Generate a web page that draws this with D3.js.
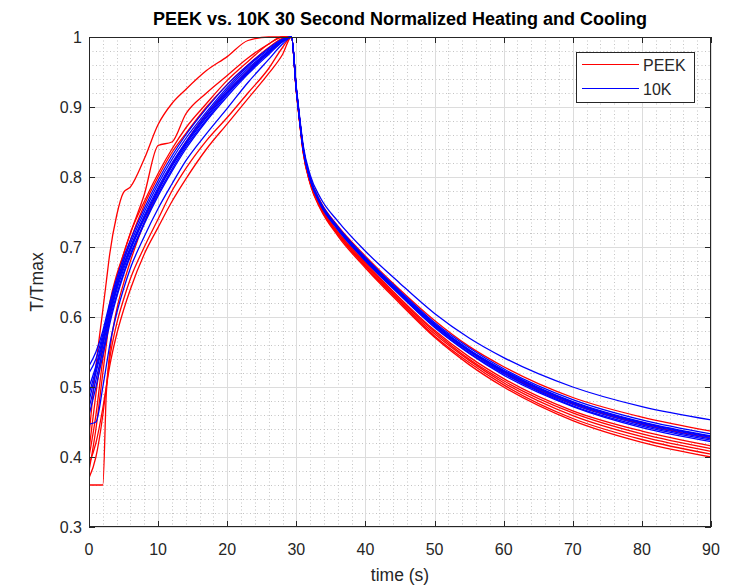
<!DOCTYPE html>
<html><head><meta charset="utf-8">
<script src="https://cdn.jsdelivr.net/npm/d3@7"></script>
<style>html,body{margin:0;padding:0;background:#fff;}svg{display:block;font-family:"Liberation Sans",Arial,Helvetica,sans-serif;}</style>
</head><body><svg id="c" width="733" height="587"></svg>
<script>
const times = [0, 1, 2, 2.5, 3, 4, 5, 6, 8, 10, 12, 14, 17, 20, 23, 26, 28, 29.3, 30, 30.5, 31, 32, 33.5, 36, 40, 45, 50, 55, 60, 70, 80, 90];

const peekSeries = [
  [0.43,0.53,0.61,0.65,0.69,0.745,0.778,0.786,0.826,0.875,0.905,0.925,0.952,0.972,0.995,1.0,1.0,1.0,
   0.923,0.878,0.837,0.793,0.757,0.721,0.676,0.625,0.579,0.540,0.509,0.463,0.433,0.412],
  [0.40,0.46,0.54,0.575,0.61,0.655,0.69,0.72,0.775,0.845,0.85,0.89,0.92,0.945,0.97,0.99,1.0,1.0,
   0.926,0.881,0.842,0.799,0.765,0.730,0.687,0.639,0.595,0.558,0.529,0.485,0.457,0.437],
  [0.38,0.44,0.52,0.56,0.6,0.645,0.68,0.71,0.76,0.8,0.835,0.862,0.9,0.932,0.96,0.985,0.998,1.0,
   0.923,0.876,0.835,0.791,0.755,0.718,0.672,0.621,0.573,0.535,0.503,0.455,0.425,0.404],
  [0.36,0.36,0.36,0.49,0.55,0.61,0.648,0.68,0.735,0.78,0.818,0.85,0.89,0.922,0.952,0.98,0.995,1.0,
   0.925,0.88,0.84,0.797,0.762,0.727,0.683,0.633,0.588,0.551,0.521,0.476,0.447,0.427],
  [0.37,0.40,0.46,0.5,0.54,0.59,0.625,0.655,0.7,0.74,0.78,0.812,0.852,0.885,0.92,0.955,0.985,1.0,
   0.922,0.876,0.834,0.79,0.754,0.716,0.670,0.619,0.571,0.532,0.500,0.452,0.421,0.400],
  [0.39,0.42,0.47,0.5,0.53,0.575,0.61,0.64,0.69,0.728,0.765,0.797,0.84,0.876,0.912,0.948,0.975,1.0,
   0.924,0.878,0.838,0.794,0.758,0.722,0.678,0.627,0.581,0.543,0.512,0.466,0.437,0.416],
  [0.41,0.49,0.56,0.59,0.62,0.66,0.69,0.72,0.765,0.805,0.84,0.87,0.905,0.938,0.965,0.99,1.0,1.0,
   0.923,0.877,0.836,0.792,0.756,0.719,0.674,0.623,0.576,0.538,0.506,0.459,0.429,0.408]
];

const tenKSeries = [
  [0.447,0.45,0.5,0.53,0.56,0.605,0.64,0.67,0.715,0.755,0.79,0.823,0.862,0.898,0.935,0.968,0.99,1.0,
   0.928,0.884,0.845,0.803,0.770,0.737,0.694,0.648,0.605,0.570,0.542,0.500,0.472,0.453],
  [0.5,0.53,0.57,0.59,0.61,0.645,0.675,0.7,0.745,0.785,0.82,0.85,0.89,0.925,0.955,0.98,0.995,1.0,
   0.926,0.881,0.841,0.798,0.764,0.729,0.685,0.637,0.592,0.556,0.526,0.482,0.453,0.433],
  [0.52,0.54,0.575,0.595,0.615,0.65,0.68,0.705,0.75,0.79,0.825,0.855,0.893,0.928,0.958,0.982,0.996,1.0,
   0.925,0.88,0.84,0.798,0.763,0.728,0.684,0.635,0.590,0.553,0.524,0.479,0.450,0.430],
  [0.48,0.52,0.56,0.58,0.6,0.638,0.668,0.695,0.74,0.78,0.815,0.846,0.885,0.92,0.95,0.978,0.994,1.0,
   0.925,0.88,0.84,0.797,0.762,0.727,0.683,0.634,0.589,0.552,0.522,0.477,0.448,0.428],
  [0.46,0.5,0.545,0.567,0.59,0.628,0.66,0.687,0.733,0.773,0.808,0.84,0.88,0.915,0.947,0.975,0.993,1.0,
   0.925,0.88,0.84,0.796,0.761,0.726,0.682,0.633,0.588,0.551,0.520,0.475,0.446,0.426],
  [0.53,0.55,0.58,0.6,0.62,0.655,0.685,0.71,0.755,0.795,0.83,0.86,0.898,0.932,0.96,0.984,0.997,1.0,
   0.925,0.879,0.839,0.796,0.761,0.725,0.681,0.632,0.586,0.549,0.519,0.473,0.444,0.424],
  [0.49,0.525,0.565,0.585,0.605,0.642,0.672,0.698,0.742,0.782,0.817,0.848,0.887,0.922,0.952,0.979,0.995,1.0,
   0.925,0.88,0.84,0.797,0.762,0.727,0.683,0.635,0.590,0.553,0.523,0.478,0.449,0.429],
  [0.47,0.51,0.552,0.573,0.595,0.632,0.663,0.69,0.735,0.776,0.811,0.843,0.882,0.918,0.949,0.977,0.994,1.0,
   0.924,0.879,0.839,0.796,0.760,0.725,0.680,0.631,0.585,0.548,0.517,0.472,0.442,0.422]
];

const xTicks = [0,10,20,30,40,50,60,70,80,90];
const yTicks = [0.3,0.4,0.5,0.6,0.7,0.8,0.9,1];
const legendLabels = ["PEEK","10K"];
const seriesColors = ["#ff0000","#0000ff"];
const titleText = "PEEK vs. 10K 30 Second Normalized Heating and Cooling";
const xLabel = "time (s)";
const yLabel = "T/Tmax";

const L = 89, R = 711, T = 37, B = 527;
const svg = d3.select("#c");
const x = d3.scaleLinear().domain([0,90]).range([L,R]);
const y = d3.scaleLinear().domain([0.3,1]).range([B,T]);
const axisCol = "#262626";

// minor grid
const xMinor = d3.range(0,90.001,2).filter(v => v % 10 !== 0);
const yMinor = d3.range(30,100.001,2).map(v=>v/100).filter(v => Math.round(v*100) % 10 !== 0);
const g = svg.append("g");
g.selectAll(".xm").data(xMinor).enter().append("line")
  .attr("x1",d=>Math.round(x(d))+0.5).attr("x2",d=>Math.round(x(d))+0.5).attr("y1",T).attr("y2",B)
  .attr("stroke","#c4c4c4").attr("stroke-dasharray","1,2.5").attr("stroke-width",1);
g.selectAll(".ym").data(yMinor).enter().append("line")
  .attr("y1",d=>Math.round(y(d))+0.5).attr("y2",d=>Math.round(y(d))+0.5).attr("x1",L).attr("x2",R)
  .attr("stroke","#c4c4c4").attr("stroke-dasharray","1,2.5").attr("stroke-width",1);
// major grid
g.selectAll(".xg").data(xTicks).enter().append("line")
  .attr("x1",d=>Math.round(x(d))+0.5).attr("x2",d=>Math.round(x(d))+0.5).attr("y1",T).attr("y2",B)
  .attr("stroke","#dcdcdc").attr("stroke-width",1);
g.selectAll(".yg").data(yTicks).enter().append("line")
  .attr("y1",d=>Math.round(y(d))+0.5).attr("y2",d=>Math.round(y(d))+0.5).attr("x1",L).attr("x2",R)
  .attr("stroke","#dcdcdc").attr("stroke-width",1);

// lines
const line = d3.line().x((d,i)=>x(times[i])).y(d=>y(d)).curve(d3.curveMonotoneX);
svg.append("clipPath").attr("id","clp").append("rect").attr("x",L).attr("y",T-1).attr("width",R-L).attr("height",B-T+1);
const lg = svg.append("g").attr("clip-path","url(#clp)");
peekSeries.forEach(s => lg.append("path").attr("d",line(s)).attr("fill","none").attr("stroke",seriesColors[0]).attr("stroke-width",1.3));
tenKSeries.forEach(s => lg.append("path").attr("d",line(s)).attr("fill","none").attr("stroke",seriesColors[1]).attr("stroke-width",1.3));

// axes box and ticks
const ax = svg.append("g");
ax.append("rect").attr("x",L+0.5).attr("y",T+0.5).attr("width",R-L-1).attr("height",B-T-1)
  .attr("fill","none").attr("stroke",axisCol).attr("stroke-width",1);
xTicks.forEach(v=>{
  const px = Math.round(x(v))+0.5;
  ax.append("line").attr("x1",px).attr("x2",px).attr("y1",B).attr("y2",B-6).attr("stroke",axisCol);
  ax.append("line").attr("x1",px).attr("x2",px).attr("y1",T).attr("y2",T+6).attr("stroke",axisCol);
});
yTicks.forEach(v=>{
  const py = Math.round(y(v))+0.5;
  ax.append("line").attr("y1",py).attr("y2",py).attr("x1",L).attr("x2",L+6).attr("stroke",axisCol);
  ax.append("line").attr("y1",py).attr("y2",py).attr("x1",R).attr("x2",R-6).attr("stroke",axisCol);
});
ax.selectAll(".xt").data(xTicks).enter().append("text")
  .attr("x",d=>x(d)).attr("y",B+28).attr("text-anchor","middle")
  .attr("font-size",16).attr("fill",axisCol).text(d=>d);
ax.selectAll(".yt").data(yTicks).enter().append("text")
  .attr("x",L-7).attr("y",d=>y(d)+6).attr("text-anchor","end")
  .attr("font-size",16).attr("fill",axisCol).text(d=>d);

svg.append("text").attr("x",(L+R)/2).attr("y",581).attr("text-anchor","middle")
  .attr("font-size",17.5).attr("fill",axisCol).text(xLabel);
svg.append("text").attr("transform",`translate(43,${(T+B)/2}) rotate(-90)`).attr("text-anchor","middle")
  .attr("font-size",17.5).attr("fill",axisCol).text(yLabel);
svg.append("text").attr("x",(L+R)/2).attr("y",25).attr("text-anchor","middle")
  .attr("font-size",18).attr("font-weight","bold").attr("fill","#000").text(titleText);

// legend
const leg = svg.append("g");
leg.append("rect").attr("x",576.5).attr("y",52.5).attr("width",118).attr("height",50)
  .attr("fill","#fff").attr("stroke",axisCol).attr("stroke-width",1);
legendLabels.forEach((lab,i)=>{
  const ly = 64 + i*24;
  leg.append("line").attr("x1",582).attr("x2",639).attr("y1",ly+0.5).attr("y2",ly+0.5)
    .attr("stroke",seriesColors[i]).attr("stroke-width",1.2);
  leg.append("text").attr("x",643).attr("y",ly+7).attr("font-size",16).attr("fill",axisCol).text(lab);
});
</script>
</body></html>
